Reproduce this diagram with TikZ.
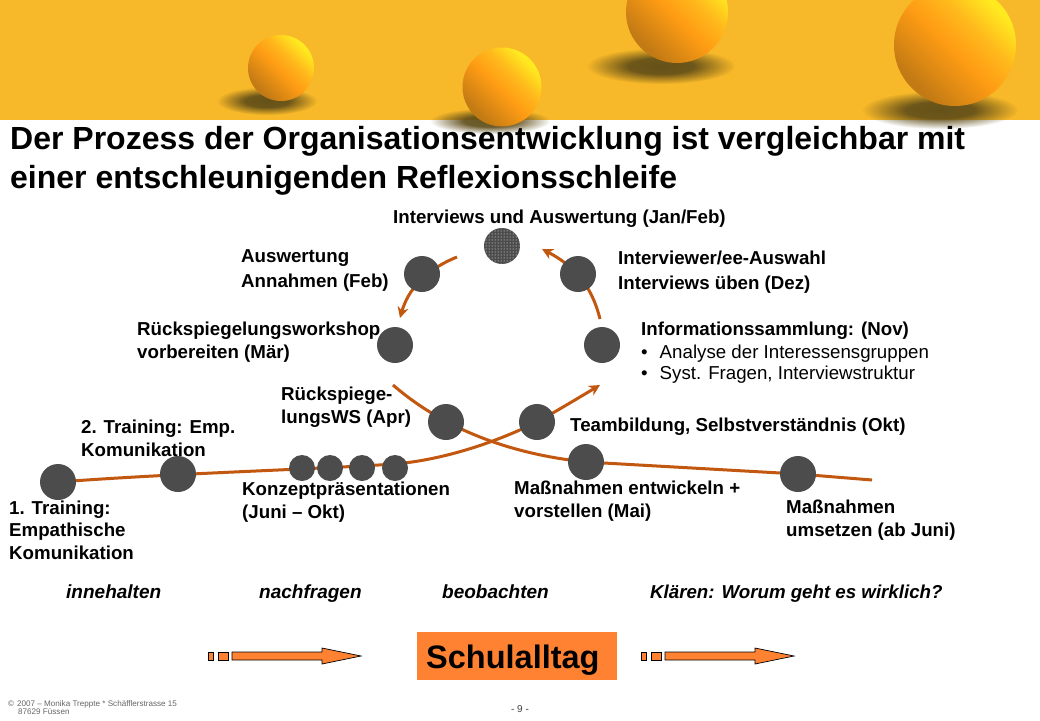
\documentclass[tikz,border=0pt]{standalone}
\usepackage{fontspec}
\setmainfont{Liberation Sans}
\usetikzlibrary{patterns,fadings,arrows.meta}
\definecolor{banner}{HTML}{F7B829}
\definecolor{loopline}{HTML}{C2570F}
\definecolor{station}{HTML}{4C4C4C}
\definecolor{schul}{HTML}{FF8233}
\definecolor{ballhi}{HTML}{FFEA20}
\definecolor{ballup}{HTML}{FFB81C}
\definecolor{ballmid}{HTML}{FF9C14}
\definecolor{balllo}{HTML}{C27A14}
\definecolor{blobdark}{HTML}{5E4C18}
\pgfdeclareverticalshading{ballshade}{100bp}{color(0bp)=(balllo); color(27bp)=(balllo);
  color(48bp)=(ballmid); color(60bp)=(ballup); color(73bp)=(ballhi); color(100bp)=(ballhi)}
\pgfdeclareradialshading{blobshade}{\pgfpointorigin}{color(0bp)=(pgftransparent!5);
  color(11bp)=(pgftransparent!10); color(25bp)=(pgftransparent!100); color(50bp)=(pgftransparent!100)}
\pgfdeclarefading{blob}{\pgfuseshading{blobshade}}
\begin{document}
\begin{tikzpicture}[
  x=1pt, y=-1pt,
  ball/.style={circle, minimum size=#1, inner sep=0pt, shading=ballshade, shading angle=-45},
  shade blob/.style={fill=blobdark, path fading=blob},
  station/.style={circle, fill=station, minimum size=36pt, inner sep=0pt},
  small station/.style={circle, fill=station, minimum size=26pt, inner sep=0pt},
  loop arc/.style={line width=3pt, loopline},
  label/.style={anchor=base west, align=left, inner sep=0pt, font=\fontsize{18.7}{23}\selectfont\bfseries},
  plain label/.style={anchor=base west, inner sep=0pt, font=\fontsize{18.7}{23}\selectfont},
  step word/.style={anchor=base west, inner sep=0pt, font=\fontsize{19}{20}\selectfont\bfseries\itshape},
  title/.style={anchor=base west, inner sep=0pt, font=\fontsize{32}{38}\selectfont\bfseries},
  flow arrow/.style={fill=schul, draw=black, line width=0.7pt}
]
  \useasboundingbox (0,0) rectangle (1040,720);
  \fill[white] (0,0) rectangle (1040,720);

  % Banner with the balls
  \fill[banner] (0,0) rectangle (1040,120);
  \fill[shade blob] (267,101) ellipse (50 and 14);
  \fill[shade blob] (490,121) ellipse (60 and 13);
  \fill[shade blob] (661,66) ellipse (74 and 18);
  \fill[shade blob] (940,110) ellipse (78 and 19);
  \begin{scope}
    \clip (0,0) rectangle (1040,720);
    \node[ball=66pt] (ballA) at (281,68) {};
    \node[ball=79pt] (ballB) at (502,87) {};
    \node[ball=102pt] (ballC) at (677,12) {};
    \node[ball=122pt] (ballD) at (955,45) {};
  \end{scope}

  % Title
  \node[title] (titleA) at (10,149) {Der Prozess der Organisationsentwicklung ist vergleichbar mit};
  \node[title] (titleB) at (10,188) {einer entschleunigenden Reflexionsschleife};

  % Free ends of the curves
  \coordinate (startA) at (58,482);
  \coordinate (endA) at (600,385);
  \coordinate (startB) at (393,385);
  \coordinate (endB) at (872,480);
  \coordinate (arcRa) at (600,319);
  \coordinate (arcRb) at (542,249);
  \coordinate (arcLa) at (457,257);
  \coordinate (arcLb) at (400,318);

  % Curves run below the stations
  \draw[loop arc, -{Stealth[length=11pt,width=11pt]}] (startA)
    .. controls (180,473) and (300,470) .. (395,464)
    .. controls (440,460) and (490,445) .. (537,422)
    .. controls (560,409) and (580,397) .. (endA);
  \draw[loop arc] (startB)
    .. controls (430,417) and (490,452) .. (586,462)
    -- (798,474) -- (endB);
  \draw[loop arc, -{Stealth[length=11pt,width=11pt]}] (arcRa)
    .. controls (594,295) and (582,270) .. (arcRb);
  \draw[loop arc, -{Stealth[length=11pt,width=11pt]}] (arcLa)
    .. controls (425,270) and (408,290) .. (arcLb);

  % Stations on the loop
  \node[station, postaction={pattern=dots, pattern color=white}] (stInterviews) at (502,246) {};
  \node[station] (stAuswahl) at (578,274) {};
  \node[station] (stAuswertung) at (422,274) {};
  \node[station] (stWorkshop) at (395,345) {};
  \node[station] (stInfo) at (602,345) {};
  \node[station] (stRueck) at (446,422) {};
  \node[station] (stTeam) at (537,422) {};

  % Stations on the line
  \node[station] (stTrainA) at (58,482) {};
  \node[station] (stTrainB) at (178,474) {};
  \foreach \px/\nm in {302/a,330/b,362/c,395/d}
    \node[small station] (stKonzept\nm) at (\px,468) {};
  \node[station] (stEntwickeln) at (586,462) {};
  \node[station] (stUmsetzen) at (798,474) {};

  % Labels
  \node[label] (lbInterviews) at (393,223) {Interviews und Auswertung (Jan/Feb)};
  \node[label, font=\fontsize{18.7}{25}\selectfont\bfseries] (lbAuswahl) at (618,289) {Interviewer/ee-Auswahl\\Interviews üben (Dez)};
  \node[label, font=\fontsize{18.7}{25}\selectfont\bfseries] (lbAuswertung) at (241,287) {Auswertung\\Annahmen (Feb)};
  \node[label] (lbWorkshop) at (137,358) {Rückspiegelungsworkshop\\vorbereiten (Mär)};
  \node[label] (lbInfo) at (641,335) {Informationssammlung: (Nov)};
  \node[plain label] (lbInfoA) at (641,358) {•\hspace{12pt}Analyse der Interessensgruppen};
  \node[plain label] (lbInfoB) at (641,379) {•\hspace{12pt}Syst. Fragen, Interviewstruktur};
  \node[label] (lbRueck) at (281,423) {Rückspiege-\\lungsWS (Apr)};
  \node[label] (lbTeam) at (570,431) {Teambildung, Selbstverständnis (Okt)};
  \node[label] (lbTrainB) at (81,456) {2. Training: Emp.\\Komunikation};
  \node[label, font=\fontsize{18.7}{22.5}\selectfont\bfseries] (lbTrainA) at (9,559) {1. Training:\\Empathische\\Komunikation};
  \node[label] (lbKonzept) at (242,518) {Konzeptpräsentationen\\(Juni – Okt)};
  \node[label] (lbEntwickeln) at (514,517) {Maßnahmen entwickeln +\\vorstellen (Mai)};
  \node[label] (lbUmsetzen) at (786,536) {Maßnahmen\\umsetzen (ab Juni)};

  % Row of verbs
  \node[step word] (wdInne) at (66,598) {innehalten};
  \node[step word] (wdNach) at (259,598) {nachfragen};
  \node[step word] (wdBeob) at (442,598) {beobachten};
  \node[step word, font=\fontsize{18.7}{20}\selectfont\bfseries\itshape] (wdKlaer) at (650,598) {Klären: Worum geht es wirklich?};

  % Schulalltag and the two arrows
  \node[fill=schul, minimum width=200pt, minimum height=48pt, inner sep=0pt] (schulalltag) at (517,656) {};
  \node[anchor=base west, inner sep=0pt, font=\fontsize{32.5}{36}\selectfont\bfseries] (schultext) at (426,668) {Schulalltag};
  \foreach \dx in {0,433} {
    \begin{scope}[shift={(\dx,0)}]
      \draw[flow arrow] (208,652) rectangle (213.5,660);
      \draw[flow arrow] (218,652) rectangle (228,660);
      \draw[flow arrow] (232,652) -- (322,652) -- (322,648) -- (361,656)
        -- (322,664) -- (322,660) -- (232,660) -- cycle;
    \end{scope}
  }

  % Footer
  \node[anchor=west, inner sep=0pt, text=black!60, font=\fontsize{8.1}{9}\selectfont] (footA) at (8,704)
    {©\hspace{3pt}2007 – Monika Treppte * Schäfflerstrasse 15};
  \node[anchor=west, inner sep=0pt, text=black!60, font=\fontsize{8.1}{9}\selectfont] (footB) at (18,712) {87629 Füssen};
  \node[inner sep=0pt, text=black!75, font=\fontsize{10}{12}\selectfont] (pageno) at (520,709) {- 9 -};
\end{tikzpicture}
\end{document}
